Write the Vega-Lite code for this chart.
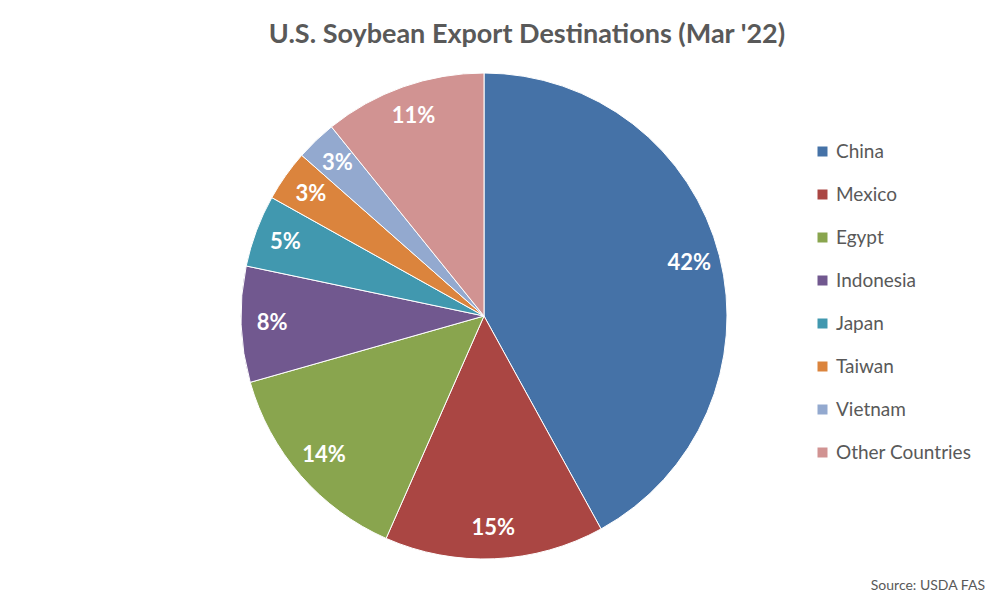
{
  "$schema": "https://vega.github.io/schema/vega-lite/v6.json",
  "background": "white",
  "padding": {"left": 0, "top": 21, "right": 0, "bottom": 0},
  "title": {"text": "Source: USDA FAS", "orient": "bottom", "anchor": "end", "frame": "group", "fontSize": 14, "font": "Lato", "fontWeight": "normal", "color": "#595959", "offset": 18, "dx": 17},
  "config": {"view": {"stroke": null}},
  "vconcat": [
    {
      "width": 968,
      "height": 486,
      "title": {"text": "U.S. Soybean Export Destinations (Mar '22)", "anchor": "middle", "frame": "group", "font": "Lato", "fontSize": 27, "fontWeight": "bold", "color": "#595959", "dx": 43, "offset": 22},
      "data": {
        "values": [
          {"country": "China", "share": 0.420, "idx": 1},
          {"country": "Mexico", "share": 0.146, "idx": 2},
          {"country": "Egypt", "share": 0.140, "idx": 3},
          {"country": "Indonesia", "share": 0.077, "idx": 4},
          {"country": "Japan", "share": 0.048, "idx": 5},
          {"country": "Taiwan", "share": 0.034, "idx": 6},
          {"country": "Vietnam", "share": 0.027, "idx": 7},
          {"country": "Other Countries", "share": 0.108, "idx": 8}
        ]
      },
      "layer": [
        {
          "mark": {"type": "arc", "stroke": "white", "strokeWidth": 1},
          "encoding": {
            "theta": {"field": "share", "type": "quantitative", "stack": true},
            "order": {"field": "idx", "type": "quantitative"},
            "color": {
              "field": "country",
              "type": "nominal",
              "sort": null,
              "scale": {
                "domain": ["China", "Mexico", "Egypt", "Indonesia", "Japan", "Taiwan", "Vietnam", "Other Countries"],
                "range": ["#4572A7", "#AA4643", "#89A54E", "#71588F", "#4198AF", "#DB843D", "#93A9CF", "#D19392"]
              },
              "legend": {
                "title": null,
                "orient": "none",
                "legendX": 813,
                "legendY": 69,
                "padding": 0,
                "symbolType": "square",
                "symbolSize": 100,
                "symbolStrokeWidth": 0,
                "labelFont": "Lato",
                "labelFontSize": 19,
                "labelColor": "#595959",
                "labelOffset": 4,
                "rowPadding": 23
              }
            }
          }
        },
        {
          "mark": {"type": "text", "radius": 212, "font": "Lato", "fontSize": 22, "fontWeight": "bold", "color": "white"},
          "encoding": {
            "theta": {"field": "share", "type": "quantitative", "stack": true},
            "order": {"field": "idx", "type": "quantitative"},
            "text": {"field": "share", "type": "quantitative", "format": ".0%"}
          }
        }
      ]
    }
  ]
}
